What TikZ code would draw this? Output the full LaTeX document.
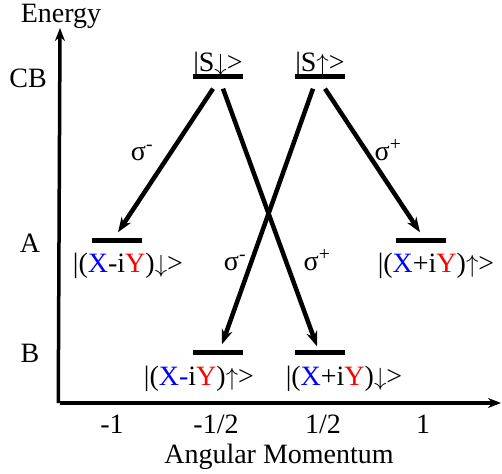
\documentclass[tikz,border=0pt]{standalone}
\usepackage{fontspec}
\setmainfont{Liberation Serif}
\usepackage{xcolor}
\usepackage{tikz}
\usetikzlibrary{arrows.meta, positioning}

\newcommand{\cX}{\textcolor{blue}{X}}
\newcommand{\cY}{\textcolor{red}{Y}}
\newcommand{\spinup}{$\uparrow$}
\newcommand{\spindn}{$\downarrow$}

\begin{document}
\begin{tikzpicture}[
    x=1pt, y=-1pt,
    font=\fontsize{28}{30}\selectfont,
    level/.style={rectangle, fill=black, minimum width=50pt, minimum height=5pt, inner sep=0pt},
    txt/.style={anchor=base, inner sep=0pt},
    axis/.style={-{Stealth[length=13pt, width=10pt]}, line width=3.5pt},
    trans/.style={-{Stealth[length=15pt, width=11pt]}, line width=4.5pt},
]
    \useasboundingbox (0,0) rectangle (502,473);

    % axes
    \coordinate (origin) at (60,403);
    \coordinate (etop) at (60,28);
    \coordinate (jend) at (501,403);
    \draw[axis] ([xshift=-1.75pt]origin) -- (etop);
    \draw[axis] (origin) -- (jend);
    \node[txt] (energy) at (61,23) {Energy};
    \node[txt] (angmom) at (279,463) {Angular Momentum};

    % band names
    \node[txt] (cb) at (28,88) {CB};
    \node[txt] (bandA) at (30,252) {A};
    \node[txt] (bandB) at (30,362) {B};

    % ticks
    \node[txt] (jm1) at (112,433) {-1};
    \node[txt] (jmh) at (216,433) {-1/2};
    \node[txt] (jph) at (323,433) {1/2};
    \node[txt] (jp1) at (423,433) {1};

    % levels
    \node[level] (sdn) at (218,77) {};
    \node[level] (sup) at (320,77) {};
    \node[level] (adn) at (117,240) {};
    \node[level] (aup) at (421,240) {};
    \node[level] (bup) at (218,352) {};
    \node[level] (bdn) at (320,352) {};

    \node[txt] (sdnlbl) at (218,72) {|S\spindn>};
    \node[txt] (suplbl) at (320,72) {|S\spinup>};
    \node[txt] (adnlbl) at (128,272) {|(\cX-i\cY)\spindn>};
    \node[txt] (auplbl) at (436,272) {|(\cX+i\cY)\spinup>};
    \node[txt] (buplbl) at (199,385) {|(\cX\textcolor{blue}{-}i\cY)\spinup>};
    \node[txt] (bdnlbl) at (344,385) {|(\cX+i\cY)\spindn>};

    % transitions
    \draw[trans] ([xshift=-5pt,yshift=-9pt]sdn.south) -- ([xshift=1pt,yshift=5pt]adn.north);
    \draw[trans] ([xshift=5pt,yshift=-9pt]sdn.south) -- ([xshift=-3pt,yshift=3pt]bdn.north);
    \draw[trans] ([xshift=-7pt,yshift=-9pt]sup.south) -- ([xshift=4pt,yshift=5pt]bup.north);
    \draw[trans] ([xshift=5pt,yshift=-9pt]sup.south) -- ([xshift=-1pt,yshift=5pt]aup.north);

    \node[txt] (sigA) at (142,160) {σ\textsuperscript{-}};
    \node[txt] (sigB) at (388,160) {σ\textsuperscript{+}};
    \node[txt] (sigC) at (235,270) {σ\textsuperscript{-}};
    \node[txt] (sigD) at (317,270) {σ\textsuperscript{+}};
\end{tikzpicture}
\end{document}
